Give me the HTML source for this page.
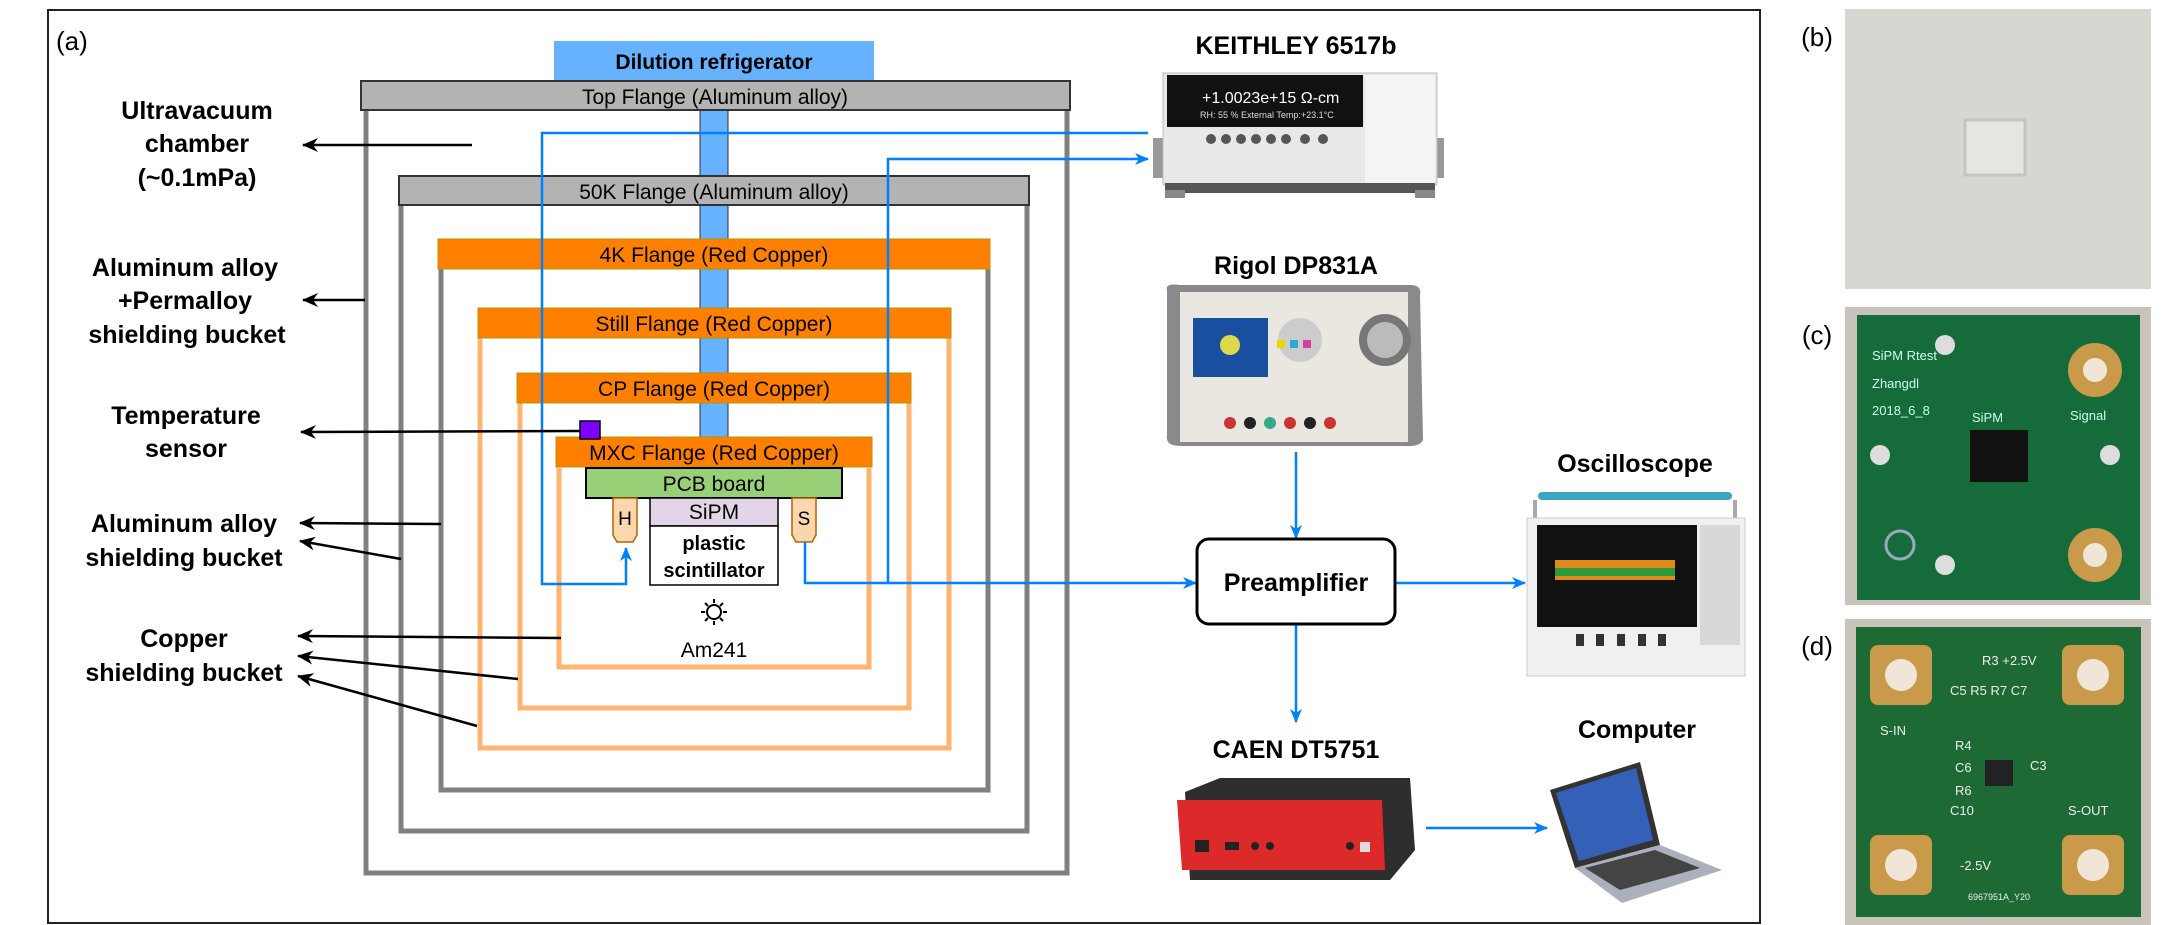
<!DOCTYPE html>
<html><head><meta charset="utf-8"><style>
html,body{margin:0;padding:0;background:#fff}
svg{display:block}
text{font-family:"Liberation Sans",Arial,sans-serif}
</style></head><body>
<svg width="2184" height="925" viewBox="0 0 2184 925" xmlns="http://www.w3.org/2000/svg">
<defs>
<marker id="ab" markerWidth="10" markerHeight="10" refX="9" refY="5" orient="auto" markerUnits="userSpaceOnUse"><path d="M0,0 L10,5 L0,10 L3,5 Z" fill="#000"/></marker>
<marker id="au" markerWidth="14" markerHeight="14" refX="13" refY="7" orient="auto" markerUnits="userSpaceOnUse"><path d="M0,1 L14,7 L0,13 L4,7 Z" fill="#007fff"/></marker>
<marker id="ak" markerWidth="16" markerHeight="16" refX="15" refY="8" orient="auto" markerUnits="userSpaceOnUse"><path d="M0,1 L16,8 L0,15 L5,8 Z" fill="#000"/></marker>
</defs>
<rect x="48" y="10" width="1712" height="913" fill="none" stroke="#222" stroke-width="2"/>
<text x="56" y="50" font-size="26">(a)</text>

<!-- buckets -->
<path d="M366,110 V873 H1067 V110" fill="none" stroke="#808080" stroke-width="5"/>
<path d="M401,205 V831 H1027 V205" fill="none" stroke="#808080" stroke-width="5"/>
<path d="M441,269 V790 H988 V269" fill="none" stroke="#808080" stroke-width="5"/>
<path d="M480,338 V748 H949 V338" fill="none" stroke="#ffb570" stroke-width="5"/>
<path d="M520,403 V708 H909 V403" fill="none" stroke="#ffb570" stroke-width="5"/>
<path d="M559,468 V667 H869 V468" fill="none" stroke="#ffb570" stroke-width="5"/>

<!-- pillar -->
<rect x="700" y="80" width="28" height="359" fill="#66b2ff" stroke="#333" stroke-width="1"/>
<rect x="554" y="41" width="320" height="39" fill="#66b2ff"/>
<text x="714" y="69" font-size="21" font-weight="bold" text-anchor="middle">Dilution refrigerator</text>

<!-- flanges -->
<rect x="361" y="81" width="709" height="29" fill="#b3b3b3" stroke="#333" stroke-width="2"/>
<text x="715" y="104" font-size="21" text-anchor="middle">Top Flange (Aluminum alloy)</text>
<rect x="399" y="176" width="630" height="29" fill="#b3b3b3" stroke="#333" stroke-width="2"/>
<text x="714" y="199" font-size="21" text-anchor="middle">50K Flange (Aluminum alloy)</text>
<rect x="438" y="239" width="552" height="30" fill="#ff8000" stroke="#b09500" stroke-width="1"/>
<text x="714" y="262" font-size="21" text-anchor="middle">4K Flange (Red Copper)</text>
<rect x="478" y="308" width="473" height="30" fill="#ff8000" stroke="#b09500" stroke-width="1"/>
<text x="714" y="331" font-size="21" text-anchor="middle">Still Flange (Red Copper)</text>
<rect x="517" y="373" width="394" height="30" fill="#ff8000" stroke="#b09500" stroke-width="1"/>
<text x="714" y="396" font-size="21" text-anchor="middle">CP Flange (Red Copper)</text>
<rect x="556" y="437" width="316" height="30" fill="#ff8000" stroke="#b09500" stroke-width="1"/>
<text x="714" y="460" font-size="21" text-anchor="middle">MXC Flange (Red Copper)</text>

<rect x="586" y="468" width="256" height="30" fill="#97d077" stroke="#000" stroke-width="2"/>
<text x="714" y="491" font-size="21" text-anchor="middle">PCB board</text>
<rect x="650" y="498" width="128" height="28" fill="#e1d5e7" stroke="#000" stroke-width="1.5"/>
<text x="714" y="519" font-size="21" text-anchor="middle">SiPM</text>
<rect x="650" y="526" width="128" height="59" fill="#fff" stroke="#000" stroke-width="1.5"/>
<text x="714" y="550" font-size="20" font-weight="bold" text-anchor="middle">plastic</text>
<text x="714" y="577" font-size="20" font-weight="bold" text-anchor="middle">scintillator</text>
<path d="M613,498 H637 V535 L633,542 H617 L613,535 Z" fill="#fad7ac" stroke="#b46504" stroke-width="1.5"/>
<text x="625" y="525" font-size="19" text-anchor="middle">H</text>
<path d="M792,498 H816 V535 L812,542 H796 L792,535 Z" fill="#fad7ac" stroke="#b46504" stroke-width="1.5"/>
<text x="804" y="525" font-size="19" text-anchor="middle">S</text>
<rect x="580" y="421" width="20" height="18" fill="#7f00ff" stroke="#000" stroke-width="1.5"/>

<!-- star -->
<g transform="translate(714,612)" fill="none" stroke="#000" stroke-width="2">
<circle r="7"/>
<path d="M0,-13 V-9 M0,13 V9 M-13,0 H-9 M13,0 H9 M-9,-9 L-6,-6 M9,9 L6,6 M-9,9 L-6,6 M9,-9 L6,-6"/>
</g>
<text x="714" y="657" font-size="21" text-anchor="middle">Am241</text>

<!-- blue lines -->
<g fill="none" stroke="#007fff" stroke-width="2.5">
<path d="M1148,133 H542 V584 H626 V548" marker-end="url(#au)"/>
<path d="M805,542 V583 H888 V159 H1148" marker-end="url(#au)"/>
<path d="M888,583 H1196" marker-end="url(#au)"/>
<path d="M1296,452 V538" marker-end="url(#au)"/>
<path d="M1395,583 H1525" marker-end="url(#au)"/>
<path d="M1296,625 V722" marker-end="url(#au)"/>
<path d="M1426,828 H1547" marker-end="url(#au)"/>
</g>

<!-- left labels -->
<g font-size="25" font-weight="bold" text-anchor="middle">
<text x="197" y="119">Ultravacuum</text><text x="197" y="152">chamber</text><text x="197" y="186">(~0.1mPa)</text>
<text x="185" y="276">Aluminum alloy</text><text x="185" y="309">+Permalloy</text><text x="187" y="343">shielding bucket</text>
<text x="186" y="424">Temperature</text><text x="186" y="457">sensor</text>
<text x="184" y="532">Aluminum alloy</text><text x="184" y="566">shielding bucket</text>
<text x="184" y="647">Copper</text><text x="184" y="681">shielding bucket</text>
</g>
<g stroke="#000" stroke-width="2.5" fill="none">
<path d="M472,145 H303" marker-end="url(#ak)"/>
<path d="M365,300 H303" marker-end="url(#ak)"/>
<path d="M580,431 L301,432" marker-end="url(#ak)"/>
<path d="M441,524 L300,523" marker-end="url(#ak)"/>
<path d="M401,559 L300,541" marker-end="url(#ak)"/>
<path d="M561,638 L298,636" marker-end="url(#ak)"/>
<path d="M518,679 L298,656" marker-end="url(#ak)"/>
<path d="M477,726 L298,676" marker-end="url(#ak)"/>
</g>

<!-- preamp -->
<rect x="1197" y="539" width="198" height="85" rx="12" fill="#fff" stroke="#000" stroke-width="3"/>
<text x="1296" y="591" font-size="25" font-weight="bold" text-anchor="middle">Preamplifier</text>

<g font-size="25" font-weight="bold" text-anchor="middle">
<text x="1296" y="54">KEITHLEY 6517b</text>
<text x="1296" y="274">Rigol DP831A</text>
<text x="1635" y="472">Oscilloscope</text>
<text x="1296" y="758">CAEN DT5751</text>
<text x="1637" y="738">Computer</text>
</g>

<!-- Keithley -->
<rect x="1153" y="138" width="12" height="40" fill="#999"/>
<rect x="1432" y="138" width="12" height="40" fill="#999"/>
<rect x="1163" y="73" width="274" height="112" fill="#e8e8e8" stroke="#bbb"/>
<rect x="1167" y="75" width="196" height="52" fill="#111"/>
<text x="1202" y="103" font-size="16" fill="#fff" font-family="Liberation Mono">+1.0023e+15 Ω-cm</text>
<text x="1200" y="118" font-size="9" fill="#ddd" font-family="Liberation Mono">RH: 55 %  External Temp:+23.1°C</text>
<rect x="1365" y="75" width="70" height="108" fill="#f4f4f4"/>
<g fill="#555"><circle cx="1211" cy="139" r="5"/><circle cx="1226" cy="139" r="5"/><circle cx="1241" cy="139" r="5"/><circle cx="1256" cy="139" r="5"/><circle cx="1271" cy="139" r="5"/><circle cx="1286" cy="139" r="5"/><circle cx="1305" cy="139" r="5"/><circle cx="1323" cy="139" r="5"/></g>
<rect x="1165" y="183" width="270" height="10" fill="#555"/>
<rect x="1165" y="190" width="20" height="8" fill="#888"/><rect x="1415" y="190" width="20" height="8" fill="#888"/>

<!-- Rigol -->
<path d="M1167,290 Q1165,283 1180,285 L1410,285 Q1422,285 1420,295 L1423,440 Q1420,447 1405,446 L1180,446 Q1165,446 1167,435 Z" fill="#8a8a8a"/>
<rect x="1180" y="292" width="228" height="150" fill="#e9e7e0"/>
<rect x="1193" y="318" width="75" height="59" fill="#1a4fa0"/>
<circle cx="1230" cy="345" r="10" fill="#ddd94a"/>
<circle cx="1300" cy="340" r="22" fill="#ccc"/><circle cx="1385" cy="340" r="22" fill="#bbb" stroke="#777" stroke-width="8"/>
<rect x="1277" y="340" width="8" height="8" fill="#e6d800"/><rect x="1290" y="340" width="8" height="8" fill="#2aa8d8"/><rect x="1303" y="340" width="8" height="8" fill="#d83c9b"/>
<g><circle cx="1230" cy="423" r="6" fill="#c33"/><circle cx="1250" cy="423" r="6" fill="#222"/><circle cx="1270" cy="423" r="6" fill="#3a8"/><circle cx="1290" cy="423" r="6" fill="#c33"/><circle cx="1310" cy="423" r="6" fill="#222"/><circle cx="1330" cy="423" r="6" fill="#c33"/></g>

<!-- Oscilloscope -->
<rect x="1538" y="492" width="194" height="8" rx="4" fill="#3aa7c0"/>
<path d="M1535,500 V520 M1735,500 V520" stroke="#aaa" stroke-width="4"/>
<rect x="1527" y="518" width="218" height="158" fill="#f0f0f2" stroke="#ccc"/>
<rect x="1537" y="525" width="160" height="102" fill="#111"/>
<rect x="1555" y="560" width="120" height="20" fill="#e08a1a"/>
<rect x="1555" y="568" width="120" height="8" fill="#2c9a3c"/>
<rect x="1700" y="525" width="40" height="120" fill="#d8d8d8"/>
<g fill="#333"><rect x="1576" y="634" width="8" height="12"/><rect x="1596" y="634" width="8" height="12"/><rect x="1617" y="634" width="8" height="12"/><rect x="1638" y="634" width="8" height="12"/><rect x="1658" y="634" width="8" height="12"/></g>

<!-- CAEN -->
<path d="M1185,792 L1220,778 H1410 L1415,850 L1390,880 H1190 Z" fill="#2e2e2e"/>
<path d="M1177,800 H1382 L1385,870 H1182 Z" fill="#dc2a2a"/>
<g fill="#222"><rect x="1195" y="840" width="14" height="12"/><rect x="1225" y="842" width="14" height="8"/><circle cx="1255" cy="846" r="4"/><circle cx="1270" cy="846" r="4"/><circle cx="1350" cy="846" r="4"/><rect x="1360" y="842" width="10" height="10" fill="#ddd"/></g>

<!-- Laptop -->
<path d="M1550,790 L1640,762 L1660,845 L1575,868 Z" fill="#333"/>
<path d="M1556,793 L1636,768 L1653,840 L1579,861 Z" fill="#3560b8"/>
<path d="M1575,868 L1660,845 L1722,870 L1622,903 Z" fill="#aab0bc"/>
<path d="M1585,868 L1655,850 L1700,868 L1620,890 Z" fill="#444"/>

<!-- right panels -->
<text x="1817" y="46" font-size="26" text-anchor="middle">(b)</text>
<text x="1817" y="344" font-size="26" text-anchor="middle">(c)</text>
<text x="1817" y="655" font-size="26" text-anchor="middle">(d)</text>
<rect x="1845" y="9" width="306" height="280" fill="#d8d6d1"/>
<rect x="1965" y="120" width="60" height="55" fill="#e6e5e2" stroke="#c6c4bf" stroke-width="3"/>

<rect x="1845" y="307" width="306" height="298" fill="#c9c4bb"/>
<rect x="1857" y="315" width="283" height="285" fill="#166b3a"/>
<text x="1872" y="360" font-size="13" fill="#cfe" font-family="Liberation Mono">SiPM Rtest</text>
<text x="1872" y="388" font-size="13" fill="#cfe" font-family="Liberation Mono">Zhangdl</text>
<text x="1872" y="415" font-size="13" fill="#cfe" font-family="Liberation Mono">2018_6_8</text>
<text x="1972" y="422" font-size="13" fill="#cfe" font-family="Liberation Mono">SiPM</text>
<text x="2070" y="420" font-size="13" fill="#cfe" font-family="Liberation Mono">Signal</text>
<rect x="1970" y="430" width="58" height="52" fill="#111"/>
<circle cx="2095" cy="370" r="27" fill="#c89a4a"/><circle cx="2095" cy="370" r="12" fill="#f0e6d8"/>
<circle cx="2095" cy="555" r="27" fill="#c89a4a"/><circle cx="2095" cy="555" r="12" fill="#f0e6d8"/>
<circle cx="1900" cy="545" r="14" fill="none" stroke="#9ab" stroke-width="3"/>
<circle cx="1945" cy="345" r="10" fill="#ddd"/><circle cx="1880" cy="455" r="10" fill="#ddd"/><circle cx="2110" cy="455" r="10" fill="#ddd"/><circle cx="1945" cy="565" r="10" fill="#ddd"/>

<rect x="1845" y="619" width="306" height="306" fill="#c9c4bb"/>
<rect x="1856" y="627" width="285" height="290" fill="#1d6a35"/>
<g fill="#c89a4a"><rect x="1870" y="645" width="62" height="60" rx="8"/><rect x="2062" y="645" width="62" height="60" rx="8"/><rect x="1870" y="835" width="62" height="60" rx="8"/><rect x="2062" y="835" width="62" height="60" rx="8"/></g>
<g fill="#f0e6d8"><circle cx="1901" cy="675" r="16"/><circle cx="2093" cy="675" r="16"/><circle cx="1901" cy="865" r="16"/><circle cx="2093" cy="865" r="16"/></g>
<rect x="1985" y="760" width="28" height="26" fill="#222"/>
<g font-size="13" fill="#eee" font-family="Liberation Mono"><text x="1982" y="665">R3 +2.5V</text><text x="1950" y="695">C5 R5 R7 C7</text><text x="1880" y="735">S-IN</text><text x="1955" y="750">R4</text><text x="1955" y="772">C6</text><text x="1955" y="795">R6</text><text x="1950" y="815">C10</text><text x="2068" y="815">S-OUT</text><text x="2030" y="770">C3</text><text x="1960" y="870">-2.5V</text><text x="1968" y="900" font-size="9">6967951A_Y20</text></g>
</svg>
</body></html>
